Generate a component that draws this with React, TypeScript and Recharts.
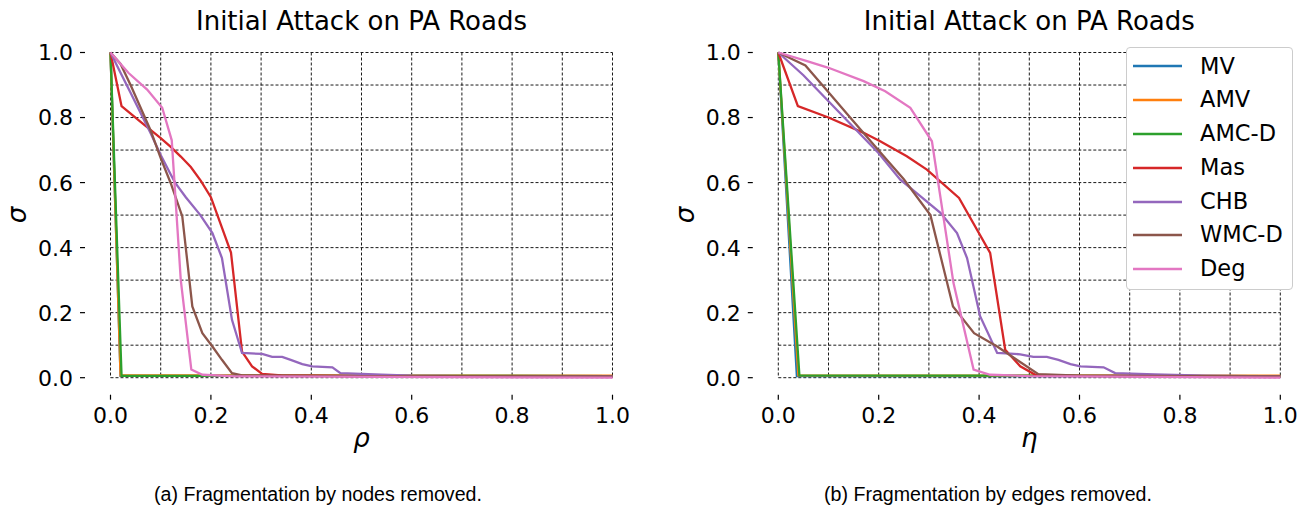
import React from "react";
import { LineChart, Line, XAxis, YAxis, CartesianGrid, Legend } from "recharts";

// ---------- data ----------
const SERIES_NAMES = ["MV", "AMV", "AMC-D", "Mas", "CHB", "WMC-D", "Deg"];
const SERIES_COLORS = ["#1f77b4", "#ff7f0e", "#2ca02c", "#d62728", "#9467bd", "#8c564b", "#e377c2"];
const TICKS = [0, 0.1, 0.2, 0.3, 0.4, 0.5, 0.6, 0.7, 0.8, 0.9, 1.0];

// (a) nodes removed (rho)
const nodesMV_x = [0, 0.02, 1.0];
const nodesMV_y = [1.0, 0.006, 0.005];
const nodesAMV_x = [0, 0.02, 1.0];
const nodesAMV_y = [1.0, 0.007, 0.006];
const nodesAMCD_x = [0, 0.022, 1.0];
const nodesAMCD_y = [1.0, 0.006, 0.005];
const nodesMas_x = [0, 0.022, 0.06, 0.1, 0.12, 0.14, 0.16, 0.18, 0.2, 0.22, 0.24, 0.262, 0.282, 0.302, 0.34, 0.5, 1.0];
const nodesMas_y = [1.0, 0.835, 0.787, 0.737, 0.71, 0.68, 0.648, 0.605, 0.555, 0.47, 0.385, 0.08, 0.035, 0.012, 0.007, 0.005, 0.004];
const nodesCHB_x = [0, 0.02, 0.04, 0.06, 0.08, 0.1, 0.12, 0.129, 0.15, 0.179, 0.203, 0.222, 0.242, 0.262, 0.302, 0.322, 0.342, 0.359, 0.382, 0.402, 0.442, 0.458, 0.5, 0.54, 0.6, 0.7, 1.0];
const nodesCHB_y = [1.0, 0.938, 0.876, 0.814, 0.752, 0.685, 0.625, 0.599, 0.555, 0.5, 0.445, 0.368, 0.178, 0.076, 0.073, 0.064, 0.064, 0.055, 0.042, 0.035, 0.032, 0.014, 0.012, 0.009, 0.006, 0.005, 0.004];
const nodesWMCD_x = [0, 0.02, 0.04, 0.06, 0.08, 0.1, 0.12, 0.143, 0.163, 0.183, 0.203, 0.222, 0.242, 0.262, 0.5, 1.0];
const nodesWMCD_y = [1.0, 0.965, 0.9, 0.83, 0.76, 0.675, 0.598, 0.496, 0.219, 0.137, 0.096, 0.055, 0.014, 0.007, 0.005, 0.004];
const nodesDeg_x = [0, 0.036, 0.073, 0.103, 0.122, 0.14, 0.161, 0.183, 0.25, 1.0];
const nodesDeg_y = [1.0, 0.937, 0.886, 0.83, 0.73, 0.3, 0.025, 0.009, 0.004, 0.0];

// (b) edges removed (eta)
const edgesMV_x = [0, 0.037, 1.0];
const edgesMV_y = [1.0, 0.005, 0.004];
const edgesAMV_x = [0, 0.04, 1.0];
const edgesAMV_y = [1.0, 0.007, 0.006];
const edgesAMCD_x = [0, 0.042, 1.0];
const edgesAMCD_y = [1.0, 0.007, 0.005];
const edgesMas_x = [0, 0.039, 0.1, 0.17, 0.203, 0.256, 0.296, 0.36, 0.422, 0.452, 0.482, 0.512, 0.55, 1.0];
const edgesMas_y = [1.0, 0.835, 0.8, 0.753, 0.727, 0.681, 0.64, 0.553, 0.384, 0.086, 0.035, 0.009, 0.006, 0.004];
const edgesCHB_x = [0, 0.05, 0.1, 0.15, 0.2, 0.243, 0.263, 0.323, 0.356, 0.376, 0.402, 0.436, 0.462, 0.482, 0.508, 0.535, 0.558, 0.582, 0.602, 0.648, 0.671, 0.75, 0.85, 1.0];
const edgesCHB_y = [1.0, 0.93, 0.85, 0.77, 0.69, 0.609, 0.584, 0.507, 0.445, 0.368, 0.189, 0.076, 0.074, 0.072, 0.064, 0.064, 0.055, 0.042, 0.035, 0.032, 0.014, 0.01, 0.006, 0.004];
const edgesWMCD_x = [0, 0.054, 0.1, 0.15, 0.2, 0.25, 0.303, 0.348, 0.39, 0.436, 0.475, 0.518, 0.6, 1.0];
const edgesWMCD_y = [1.0, 0.96, 0.878, 0.788, 0.699, 0.61, 0.5, 0.219, 0.137, 0.096, 0.055, 0.011, 0.006, 0.004];
const edgesDeg_x = [0, 0.054, 0.1, 0.17, 0.213, 0.263, 0.306, 0.349, 0.389, 0.422, 0.5, 1.0];
const edgesDeg_y = [1.0, 0.975, 0.953, 0.912, 0.881, 0.83, 0.727, 0.291, 0.025, 0.009, 0.005, 0.0];

const zip = (xs: number[], ys: number[]) => xs.map((x, i) => ({ x, y: ys[i] }));

const NODES = [
  zip(nodesMV_x, nodesMV_y),
  zip(nodesAMV_x, nodesAMV_y),
  zip(nodesAMCD_x, nodesAMCD_y),
  zip(nodesMas_x, nodesMas_y),
  zip(nodesCHB_x, nodesCHB_y),
  zip(nodesWMCD_x, nodesWMCD_y),
  zip(nodesDeg_x, nodesDeg_y),
];
const EDGES = [
  zip(edgesMV_x, edgesMV_y),
  zip(edgesAMV_x, edgesAMV_y),
  zip(edgesAMCD_x, edgesAMCD_y),
  zip(edgesMas_x, edgesMas_y),
  zip(edgesCHB_x, edgesCHB_y),
  zip(edgesWMCD_x, edgesWMCD_y),
  zip(edgesDeg_x, edgesDeg_y),
];

// ---------- layout ----------
const FONT = "DejaVu Sans, sans-serif";
const CHART_W = 656;
const CHART_H = 510;
const PLOT_TOP = 52.5;
const PLOT_BOTTOM = 377.7;
const X_AXIS_H = 60;

const isMajor = (v: number) => Math.round(v * 10) % 2 === 0;

const makeYTick = (plotLeft: number) => (props: any) => {
  const { y, payload } = props;
  if (!isMajor(payload.value)) return <g />;
  return (
    <g>
      <line x1={plotLeft - 30.5} x2={plotLeft - 25.5} y1={y} y2={y} stroke="#000" strokeWidth={1.2} />
      <text x={plotLeft - 37.5} y={y} dy="0.36em" textAnchor="end" fontFamily={FONT} fontSize={22} fill="#000">
        {payload.value.toFixed(1)}
      </text>
    </g>
  );
};

const XTick = (props: any) => {
  const { x, payload } = props;
  if (!isMajor(payload.value)) return <g />;
  return (
    <g>
      <line x1={x} x2={x} y1={PLOT_BOTTOM + 17} y2={PLOT_BOTTOM + 22} stroke="#000" strokeWidth={1.2} />
      <text x={x} y={PLOT_BOTTOM + 37.5} dy="0.36em" textAnchor="middle" fontFamily={FONT} fontSize={22} fill="#000">
        {payload.value.toFixed(1)}
      </text>
    </g>
  );
};

const LegendBox = (props: any) => {
  const payload = [...(props.payload || [])].sort(
    (a: any, b: any) => SERIES_NAMES.indexOf(a.value) - SERIES_NAMES.indexOf(b.value)
  );
  return (
    <div
      style={{
        background: "#fff",
        border: "1px solid #cccccc",
        borderRadius: 4,
        width: 167,
        height: 243,
        boxSizing: "border-box",
        paddingTop: 1.5,
        fontFamily: FONT,
        fontSize: 22.5,
        color: "#000",
      }}
    >
      {payload.map((p: any) => (
        <div key={p.value} style={{ height: 33.8, display: "flex", alignItems: "center" }}>
          <svg width={73} height={6} style={{ display: "block" }}>
            <line x1={6} x2={55} y1={3} y2={3} stroke={p.color} strokeWidth={2.4} />
          </svg>
          <span style={{ lineHeight: "33.8px" }}>{p.value}</span>
        </div>
      ))}
    </div>
  );
};

function Panel({ series, plotLeft, legend }: { series: { x: number; y: number }[][]; plotLeft: number; legend?: boolean }) {
  const plotRight = plotLeft + 502;
  return (
    <LineChart
      width={CHART_W}
      height={CHART_H}
      margin={{ top: PLOT_TOP, right: CHART_W - plotRight, bottom: CHART_H - PLOT_BOTTOM - X_AXIS_H, left: 0 }}
    >
      <CartesianGrid stroke="#1a1a1a" strokeWidth={1} strokeDasharray="3 2" />
      <XAxis
        dataKey="x"
        type="number"
        domain={[0, 1]}
        ticks={TICKS}
        interval={0}
        axisLine={false}
        tickLine={false}
        height={X_AXIS_H}
        tick={XTick}
      />
      <YAxis
        type="number"
        domain={[0, 1]}
        ticks={TICKS}
        interval={0}
        axisLine={false}
        tickLine={false}
        width={plotLeft}
        tick={makeYTick(plotLeft)}
      />
      {series.map((d, i) => (
        <Line
          key={SERIES_NAMES[i]}
          data={d}
          dataKey="y"
          name={SERIES_NAMES[i]}
          type="linear"
          stroke={SERIES_COLORS[i]}
          strokeWidth={2.3}
          dot={false}
          activeDot={false}
          isAnimationActive={false}
        />
      ))}
      {legend && (
        <Legend
          layout="vertical"
          align="center"
          verticalAlign="middle"
          content={LegendBox}
          wrapperStyle={{ left: 1126 - 656, top: 47, width: 167, height: 243 }}
        />
      )}
    </LineChart>
  );
}

export default function App() {
  return (
    <div style={{ position: "absolute", left: 0, top: 0, width: 1312, height: 510, background: "#fff", overflow: "hidden" }}>
      <div style={{ position: "absolute", left: 0, top: 0 }}>
        <Panel series={NODES} plotLeft={110.5} />
      </div>
      <div style={{ position: "absolute", left: 656, top: 0 }}>
        <Panel series={EDGES} plotLeft={778.3 - 656} legend />
      </div>
      <svg width={1312} height={510} style={{ position: "absolute", left: 0, top: 0, pointerEvents: "none" }}>
        <text x={361.5} y={30} textAnchor="middle" fontFamily={FONT} fontSize={26} fill="#000">
          Initial Attack on PA Roads
        </text>
        <text x={1029.3} y={30} textAnchor="middle" fontFamily={FONT} fontSize={26} fill="#000">
          Initial Attack on PA Roads
        </text>
        <text x={26} y={215} textAnchor="middle" fontFamily={FONT} fontStyle="italic" fontSize={26} fill="#000" transform="rotate(-90 26 215)">
          σ
        </text>
        <text x={694} y={215} textAnchor="middle" fontFamily={FONT} fontStyle="italic" fontSize={26} fill="#000" transform="rotate(-90 694 215)">
          σ
        </text>
        <text x={361.5} y={447} textAnchor="middle" fontFamily={FONT} fontStyle="italic" fontSize={26} fill="#000">
          ρ
        </text>
        <text x={1029.3} y={447} textAnchor="middle" fontFamily={FONT} fontStyle="italic" fontSize={26} fill="#000">
          η
        </text>
        <text x={318} y={501} textAnchor="middle" fontFamily="Liberation Sans, Arial, sans-serif" fontSize={19.6} fill="#000">
          (a) Fragmentation by nodes removed.
        </text>
        <text x={988} y={501} textAnchor="middle" fontFamily="Liberation Sans, Arial, sans-serif" fontSize={19.6} fill="#000">
          (b) Fragmentation by edges removed.
        </text>
      </svg>
    </div>
  );
}
